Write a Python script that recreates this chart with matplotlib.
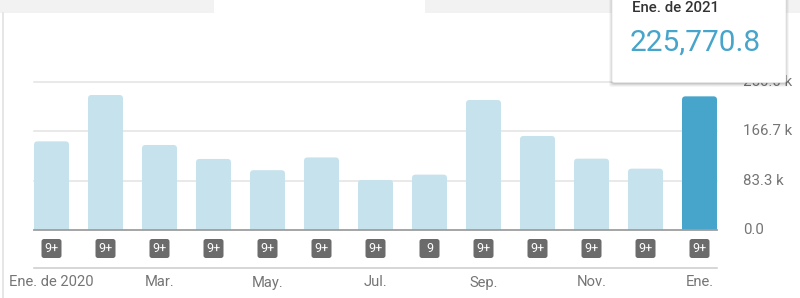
import matplotlib
matplotlib.use("Agg")
import matplotlib.pyplot as plt
from matplotlib.patches import FancyBboxPatch, Rectangle
from matplotlib.transforms import blended_transform_factory

plt.rcParams['font.family'] = ['Roboto', 'DejaVu Sans']

# ---- data ----
months = ["Ene. de 2020", "Feb.", "Mar.", "Abr.", "May.", "Jun.", "Jul.",
          "Ago.", "Sep.", "Oct.", "Nov.", "Dic.", "Ene."]
values = [149700, 228000, 143600, 120000, 101000, 122600, 84500,
          93500, 219600, 158800, 120500, 103600, 225770.8]
badges = ["9+", "9+", "9+", "9+", "9+", "9+", "9+", "9", "9+", "9+", "9+", "9+", "9+"]
shown_labels = {0: "Ene. de 2020", 2: "Mar.", 4: "May.", 6: "Jul.", 8: "Sep.", 10: "Nov.", 12: "Ene."}
yticks = [0, 83333, 166667, 250000]
ytick_labels = ["0.0", "83.3 k", "166.7 k", "250.0 k"]
tooltip_title = "Ene. de 2021"
tooltip_value = "225,770.8"
highlight = 12

W, H = 800, 298
fig = plt.figure(figsize=(W / 100, H / 100), dpi=100)
fig.patch.set_facecolor("white")

def fx(px):
    return px / W

def fy(py):
    return 1 - py / H

# axes: x from 34 to 717 px, y from 230 (0) to 82 (250k)
ax_left, ax_right, ax_bottom, ax_top = 34, 717, 230, 82
ax = fig.add_axes([fx(ax_left), fy(ax_bottom), fx(ax_right - ax_left), (ax_bottom - ax_top) / H])
ax.set_xlim(-0.324, 12.324)
ax.set_ylim(0, 250000)
ax.axis("off")

px_x = (ax_right - ax_left) / 12.648   # px per x unit
px_y = (ax_bottom - ax_top) / 250000   # px per y unit
ax_h = ax_bottom - ax_top

# gridlines
for t in yticks[1:]:
    ax.plot([-0.324, 12.324], [t, t], color="#e3e3e3", lw=1.1, zorder=1, clip_on=False)

# bars with rounded tops
bw = 0.648
light = "#c5e2ed"
dark = "#47a4cb"
r_px = 3.5
for i, v in enumerate(values):
    col = dark if i == highlight else light
    p = FancyBboxPatch((i - bw / 2, -6 / px_y), bw, v + 6 / px_y,
                       boxstyle=f"round,pad=0,rounding_size={r_px / px_x}",
                       mutation_aspect=px_x / px_y,
                       facecolor=col, edgecolor="none", zorder=2)
    ax.add_patch(p)

# axis line
ax.plot([-0.324, 12.324], [0, 0], color="#9e9e9e", lw=1.3, zorder=3, clip_on=False)

# badges (below axis)
trans = blended_transform_factory(ax.transData, ax.transAxes)
bsize_w = 20 / px_x
bsize_h = 19 / ax_h
b_center = -(248.5 - ax_bottom) / ax_h
for i, b in enumerate(badges):
    bp = FancyBboxPatch((i - bsize_w / 2, b_center - bsize_h / 2), bsize_w, bsize_h,
                        boxstyle=f"round,pad=0,rounding_size={2.5 / px_x}",
                        mutation_aspect=px_x / ax_h,
                        transform=trans, facecolor="#6b6b6b", edgecolor="none",
                        clip_on=False, zorder=3)
    ax.add_patch(bp)
    ax.text(i, b_center, b, transform=trans, ha="center", va="center",
            color="white", fontsize=9, zorder=4, clip_on=False)

# line under badges
yl = -(267.7 - ax_bottom) / ax_h
ax.plot([-0.324, 12.324], [yl, yl], transform=trans, color="#cccccc", lw=1.1, clip_on=False)

# x labels
ylab = -(282.5 - ax_bottom) / ax_h
for i, lab in shown_labels.items():
    ax.text(i, ylab, lab, transform=trans, ha="center", va="center",
            color="#757575", fontsize=10.6, clip_on=False)

# y labels
trans_y = blended_transform_factory(fig.transFigure, ax.transData)
for t, lab in zip(yticks, ytick_labels):
    ax.text(fx(743), t, lab, transform=trans_y, ha="left", va="center",
            color="#757575", fontsize=10.8, clip_on=False, zorder=1)

# top tab band
fig.patches.append(Rectangle((0, fy(12.5)), 1, 12.5 / H, transform=fig.transFigure,
                             facecolor="#f2f2f2", edgecolor="none", zorder=0))
fig.patches.append(Rectangle((fx(214), fy(12.5)), fx(425 - 214), 12.5 / H, transform=fig.transFigure,
                             facecolor="white", edgecolor="none", zorder=0))
# left border
fig.add_artist(plt.Line2D([fx(3), fx(3)], [fy(12.5), 0], transform=fig.transFigure,
                          color="#e2e2e2", lw=1.2))

# tooltip with shadow
for k, a in [(4, 0.035), (3, 0.05), (2, 0.07), (1, 0.09)]:
    fig.add_artist(FancyBboxPatch((fx(612 - k + 1), fy(83 + k)), fx(786 - 612 + 2 * k - 2), (83 + k + 10) / H,
                                  boxstyle="round,pad=0,rounding_size=0.005",
                                  transform=fig.transFigure, facecolor="black", alpha=a,
                                  edgecolor="none", zorder=5))
fig.add_artist(FancyBboxPatch((fx(612), fy(82.7)), fx(786 - 612), (82.7 + 10) / H,
                              boxstyle="round,pad=0,rounding_size=0.005",
                              transform=fig.transFigure, facecolor="white",
                              edgecolor="#e6e6e6", lw=0.6, zorder=6))
fig.text(fx(632), fy(8.5), tooltip_title, ha="left", va="center", fontsize=10.8,
         fontweight="medium", color="#333333", zorder=7)
fig.text(fx(630), fy(43), tooltip_value, ha="left", va="center", fontsize=21.5,
         color="#47a4cb", zorder=7)

fig.savefig("out.png", dpi=100, facecolor="white")
